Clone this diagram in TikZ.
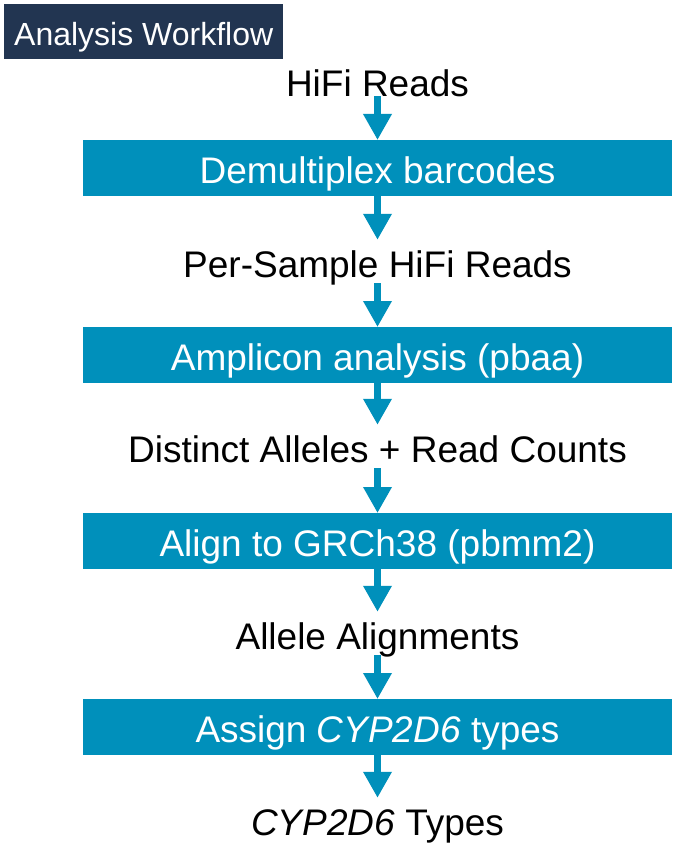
\documentclass[tikz,border=0pt]{standalone}
\usepackage{fontspec}
\setmainfont{Liberation Sans}
\usetikzlibrary{arrows.meta}
\definecolor{boxblue}{HTML}{0090BB}
\definecolor{navy}{HTML}{223551}
\begin{document}
\begin{tikzpicture}[x=1pt,y=-1pt,
  stepbox/.style={fill=boxblue, text=white, minimum width=589pt, minimum height=56pt, inner sep=0pt, text height=32pt, text depth=2pt, font=\fontsize{37}{40}\selectfont, anchor=north},
  flowtext/.style={inner sep=0pt, text height=37pt, text depth=6pt, font=\fontsize{37}{40}\selectfont, anchor=base},
  arr/.style={draw=boxblue, line width=7pt, -{Triangle[width=27pt,length=26pt]}},
]
\useasboundingbox (0,0) rectangle (672,848);
\node[fill=navy, text=white, anchor=north west, minimum width=279pt, minimum height=55pt, inner sep=0pt, text height=28pt, text depth=1pt, font=\fontsize{32}{36}\selectfont] (title) at (4,4) {Analysis Workflow};

\node[flowtext] (t1) at (377.5,97) {HiFi Reads};
\node[stepbox] (b1) at (377.5,140) {Demultiplex barcodes};
\node[flowtext] (t2) at (377.5,277) {Per-Sample HiFi Reads};
\node[stepbox] (b2) at (377.5,327) {Amplicon analysis (pbaa)};
\node[flowtext] (t3) at (377.5,462) {Distinct Alleles + Read Counts};
\node[stepbox] (b3) at (377.5,513) {Align to GRCh38 (pbmm2)};
\node[flowtext] (t4) at (377.5,649) {Allele Alignments};
\node[stepbox] (b4) at (377.5,699) {Assign {\itshape CYP2D6} types};
\node[flowtext] (t5) at (377.5,835) {{\itshape CYP2D6} Types};

\draw[arr, shorten <=-7pt] (t1.south) -- (b1.north);
\draw[arr] (b1.south) -- (t2.north);
\draw[arr] (t2.south) -- (b2.north);
\draw[arr] (b2.south) -- (t3.north);
\draw[arr] (t3.south) -- (b3.north);
\draw[arr] (b3.south) -- (t4.north);
\draw[arr] (t4.south) -- (b4.north);
\draw[arr] (b4.south) -- (t5.north);
\end{tikzpicture}
\end{document}
